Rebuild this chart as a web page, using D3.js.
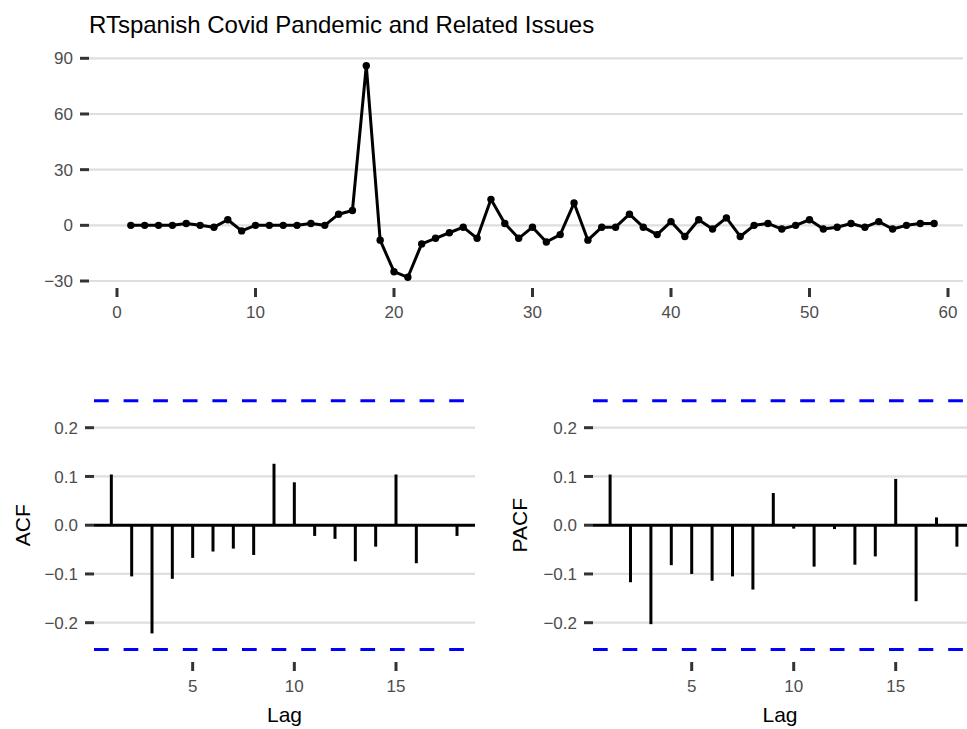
<!DOCTYPE html>
<html>
<head>
<meta charset="utf-8">
<script src="https://cdn.jsdelivr.net/npm/d3@7"></script>
<style>
  html, body { margin: 0; padding: 0; background: #fff; }
  svg { display: block; font-family: "Liberation Sans", Arial, Helvetica, sans-serif; }
</style>
</head>
<body>
<script>
// ---------- data ----------
const titleText = "RTspanish Covid Pandemic and Related Issues";
const seriesIndex = d3.range(1, 60);
const seriesValues = [0,0,0,0,1,0,-1,3,-3,0,
                      0,0,0,1,0,6,8,86,-8,-25,
                      -28,-10,-7,-4,-1,-7,14,1,-7,-1,
                      -9,-5,12,-8,-1,-1,6,-1,-5,2,
                      -6,3,-2,4,-6,0,1,-2,0,3,
                      -2,-1,1,-1,2,-2,0,1,1];
const topYTicks = [-30, 0, 30, 60, 90];
const topXTicks = [0, 10, 20, 30, 40, 50, 60];

const lags = d3.range(1, 19);
const acfValues  = [0.104,-0.105,-0.222,-0.110,-0.067,-0.054,-0.048,-0.061,0.126,0.088,-0.022,-0.028,-0.074,-0.044,0.104,-0.078,0.001,-0.022];
const pacfValues = [0.104,-0.117,-0.203,-0.082,-0.100,-0.114,-0.105,-0.132,0.066,-0.007,-0.085,-0.008,-0.081,-0.064,0.095,-0.156,0.016,-0.044];
const ciBound = [0.2552];
const corrYTicks = [-0.2, -0.1, 0.0, 0.1, 0.2];
const lagTicks = [5, 10, 15];

// ---------- setup ----------
const W = 967, H = 729;
const svg = d3.select("body").append("svg").attr("width", W).attr("height", H);

const gridCol = "#DEDEDE", tickCol = "#333333", textCol = "#4D4D4D";
const tickFont = 17, axisTitleFont = 21;

svg.append("text").attr("x", 89).attr("y", 33)
  .attr("font-size", 24).attr("fill", "#000").text(titleText);

function yAxis(g, y, ticks, x0, x1, fmt, tickLen) {
  g.selectAll(null).data(ticks).enter().append("line")
    .attr("x1", x0).attr("x2", x1)
    .attr("y1", d => y(d)).attr("y2", d => y(d))
    .attr("stroke", gridCol).attr("stroke-width", 2.2);
  g.selectAll(null).data(ticks).enter().append("line")
    .attr("x1", x0 - tickLen).attr("x2", x0)
    .attr("y1", d => y(d)).attr("y2", d => y(d))
    .attr("stroke", tickCol).attr("stroke-width", 3);
  g.selectAll(null).data(ticks).enter().append("text")
    .attr("x", x0 - tickLen - 7).attr("y", d => y(d)).attr("dy", "0.36em")
    .attr("text-anchor", "end").attr("font-size", tickFont).attr("fill", textCol)
    .text(fmt);
}
function xAxis(g, x, ticks, yTop, tickLen, fmt) {
  g.selectAll(null).data(ticks).enter().append("line")
    .attr("x1", d => x(d)).attr("x2", d => x(d))
    .attr("y1", yTop).attr("y2", yTop + tickLen)
    .attr("stroke", tickCol).attr("stroke-width", 3);
  g.selectAll(null).data(ticks).enter().append("text")
    .attr("x", d => x(d)).attr("y", yTop + tickLen + 21)
    .attr("text-anchor", "middle").attr("font-size", tickFont).attr("fill", textCol)
    .text(fmt);
}
const minus = s => s.replace("-", "\u2212");

// ---------- top time series ----------
{
  const g = svg.append("g");
  const x = d3.scaleLinear().domain([0, 60]).range([117, 948]);
  const y = d3.scaleLinear().domain([-30, 90]).range([281, 58.3]);
  yAxis(g, y, topYTicks, 89, 963, d => minus(String(d)), 9);
  xAxis(g, x, topXTicks, 288, 9, d => String(d));
  const pts = seriesIndex.map((d, i) => [d, seriesValues[i]]);
  g.append("path").datum(pts)
    .attr("d", d3.line().x(d => x(d[0])).y(d => y(d[1])))
    .attr("fill", "none").attr("stroke", "#000").attr("stroke-width", 3)
    .attr("stroke-linejoin", "round");
  g.selectAll(null).data(pts).enter().append("circle")
    .attr("cx", d => x(d[0])).attr("cy", d => y(d[1])).attr("r", 3.7).attr("fill", "#000");
}

// ---------- correlogram panels ----------
function corrPanel(vals, label, px0, px1, lag0x, lag18x, titleX) {
  const g = svg.append("g");
  const x = d3.scaleLinear().domain([0, 18]).range([lag0x, lag18x]);
  const y = d3.scaleLinear().domain([-0.2, 0.2]).range([622.7, 427.7]);
  yAxis(g, y, corrYTicks, px0, px1, d => minus(d3.format(".1f")(d)), 9);
  xAxis(g, x, lagTicks, 662, 9, d => String(d));
  g.append("line").attr("x1", px0).attr("x2", px1)
    .attr("y1", y(0)).attr("y2", y(0)).attr("stroke", "#000").attr("stroke-width", 3);
  g.selectAll(null).data(lags).enter().append("line")
    .attr("x1", d => x(d)).attr("x2", d => x(d))
    .attr("y1", y(0)).attr("y2", (d, i) => y(vals[i]))
    .attr("stroke", "#000").attr("stroke-width", 3);
  [ciBound[0], -ciBound[0]].forEach(b => {
    g.append("line").attr("x1", px0).attr("x2", px1)
      .attr("y1", y(b)).attr("y2", y(b))
      .attr("stroke", "#0000FF").attr("stroke-width", 3)
      .attr("stroke-dasharray", "14.7,14.9");
  });
  g.append("text").attr("x", (px0 + px1) / 2).attr("y", 722)
    .attr("text-anchor", "middle").attr("font-size", axisTitleFont).attr("fill", "#000").text("Lag");
  g.append("text").attr("transform", `translate(${titleX},${y(0)}) rotate(-90)`)
    .attr("text-anchor", "middle").attr("dy", "0.35em")
    .attr("font-size", axisTitleFont).attr("fill", "#000").text(label);
}
corrPanel(acfValues, "ACF", 94, 475, 91, 457, 23);
corrPanel(pacfValues, "PACF", 593, 967, 589.7, 956.9, 520);
</script>
</body>
</html>
